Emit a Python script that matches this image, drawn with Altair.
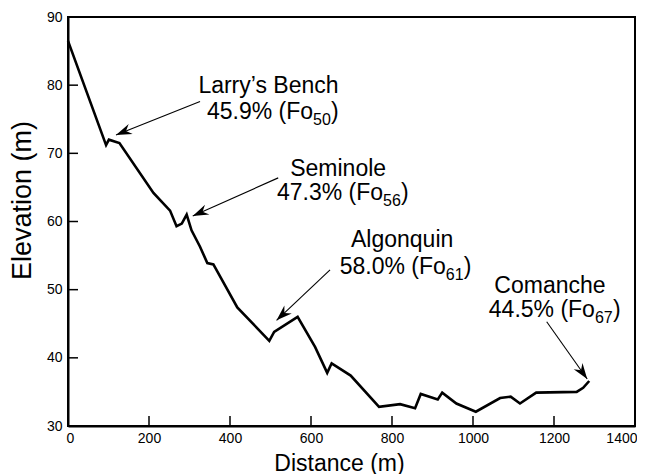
import math
import altair as alt
import pandas as pd

# ---- data ----
distance = [0, 94, 101, 127, 211, 252, 268, 281, 293, 305, 326, 344, 359, 418, 497, 509,
            567, 610, 640, 651, 698, 768, 820, 857, 871, 913, 924, 959, 1007, 1067,
            1093, 1116, 1156, 1256, 1272, 1287]
elevation = [86.5, 71.2, 72.0, 71.5, 64.2, 61.6, 59.3, 59.7, 61.0, 58.7, 56.3, 53.9, 53.7,
             47.4, 42.5, 43.8, 46.0, 41.6, 37.8, 39.2, 37.4, 32.8, 33.2, 32.6, 34.7, 33.9,
             34.9, 33.3, 32.1, 34.1, 34.3, 33.3, 34.9, 35.0, 35.6, 36.6]

x_ticks = [0, 200, 400, 600, 800, 1000, 1200, 1400]
y_ticks = [30, 40, 50, 60, 70, 80, 90]

site_names = ["Larry\u2019s Bench", "Seminole", "Algonquin", "Comanche"]
site_pct = ["45.9% (Fo", "47.3% (Fo", "58.0% (Fo", "44.5% (Fo"]
site_fo = ["50", "56", "61", "67"]
label_x = [495, 667, 825, 1190]
label_y1 = [78.85, 66.67, 56.26, 49.51]
label_y2 = [75.04, 63.15, 52.3, 45.99]
sub_x = [605, 778, 933, 1301]
tail_x = [326, 519, 647, 1182]
tail_y = [77.6, 66.4, 52.9, 45.3]
tip_x = [118.5, 308, 515, 1282]
tip_y = [72.7, 60.8, 45.5, 36.9]

W, H = 567, 409
FONT = "Liberation Sans"
X_DOM = [0, 1400]
Y_DOM = [30, 90]
kx = W / (X_DOM[1] - X_DOM[0])
ky = H / (Y_DOM[1] - Y_DOM[0])

angles = []
for a, b, c, d in zip(tail_x, tail_y, tip_x, tip_y):
    dx = (c - a) * kx
    dy = -(d - b) * ky
    ang = math.degrees(math.atan2(dx, -dy)) % 360
    angles.append(ang)

df_line = pd.DataFrame({"distance": distance, "elevation": elevation,
                        "idx": list(range(len(distance)))})
df_ann = pd.DataFrame({"name": site_names, "pct": site_pct, "fo": site_fo,
                       "lx": label_x, "ly1": label_y1, "ly2": label_y2, "sx": sub_x,
                       "tx": tail_x, "ty": tail_y, "px": tip_x, "py": tip_y,
                       "ang": angles})

xs = alt.Scale(domain=X_DOM, nice=False, zero=False)
ys = alt.Scale(domain=Y_DOM, nice=False, zero=False)

x_axis = alt.Axis(values=x_ticks, format="d", ticks=False, tickSize=0, grid=False,
                  labelFlush=True, labelFlushOffset=2, labelPadding=5, labelFontSize=14,
                  labelFont=FONT, labelColor="black", domainColor="black", domainWidth=2,
                  title="Distance (m)", titleFont=FONT, titleFontSize=23,
                  titleFontWeight="normal", titleColor="black",
                  titleX=271, titleY=44, titleBaseline="alphabetic")
y_axis = alt.Axis(values=y_ticks, format="d", ticks=False, tickSize=0, grid=False,
                  labelFlush=False, labelPadding=6, labelFontSize=14, labelFont=FONT,
                  labelColor="black", domainColor="black", domainWidth=2,
                  title="Elevation (m)", titleFont=FONT, titleFontSize=27,
                  titleFontWeight="normal", titleColor="black",
                  titleX=-38, titleY=183, titleBaseline="alphabetic")


def X(field):
    return alt.X(field, scale=xs, axis=x_axis, title="Distance (m)")


def Y(field):
    return alt.Y(field, scale=ys, axis=y_axis, title="Elevation (m)")


line = alt.Chart(df_line).mark_line(color="black", strokeWidth=2.6, strokeJoin="miter").encode(
    x=X("distance:Q"), y=Y("elevation:Q"), order="idx:Q")

xt = alt.Chart(pd.DataFrame({"t": x_ticks})).mark_rule(color="black", strokeWidth=1.5).encode(
    x=X("t:Q"), y=alt.value(H), y2=alt.value(H - 10))
yt = alt.Chart(pd.DataFrame({"t": y_ticks})).mark_rule(color="black", strokeWidth=1.5).encode(
    y=Y("t:Q"), x=alt.value(0), x2=alt.value(10))

base = alt.Chart(df_ann)
arrows = base.mark_rule(color="black", strokeWidth=1.1).encode(
    x=X("tx:Q"), y=Y("ty:Q"), x2="px:Q", y2="py:Q")
ARROW = "M0,0 L-0.34,1 L0,0.68 L0.34,1 Z"
heads = base.mark_point(shape=ARROW, filled=True, size=1000, color="black", opacity=1,
                        strokeWidth=0).encode(
    x=X("px:Q"), y=Y("py:Q"), angle=alt.Angle("ang:Q", scale=None))

t1 = base.mark_text(align="center", baseline="alphabetic", fontSize=23, font=FONT,
                    color="black").encode(x=X("lx:Q"), y=Y("ly1:Q"), text="name:N")
t2 = base.mark_text(align="right", baseline="alphabetic", fontSize=23, font=FONT,
                    color="black").encode(x=X("sx:Q"), y=Y("ly2:Q"), text="pct:N")
t3 = base.mark_text(align="left", baseline="alphabetic", fontSize=16, font=FONT, dy=6,
                    color="black").encode(x=X("sx:Q"), y=Y("ly2:Q"), text="fo:N")
t4 = base.mark_text(align="left", baseline="alphabetic", fontSize=23, font=FONT, dx=18,
                    color="black").encode(x=X("sx:Q"), y=Y("ly2:Q"), text=alt.value(")"))

chart = alt.layer(line, xt, yt, arrows, heads, t1, t2, t3, t4).properties(
    width=W, height=H,
    padding={"left": 60, "top": 9, "right": 2, "bottom": 48},
    autosize=alt.AutoSizeParams(type="none"),
).configure(background="white").configure_view(stroke="black", strokeWidth=2)

chart.save("out.html", embed_options={"renderer": "svg", "actions": False})
